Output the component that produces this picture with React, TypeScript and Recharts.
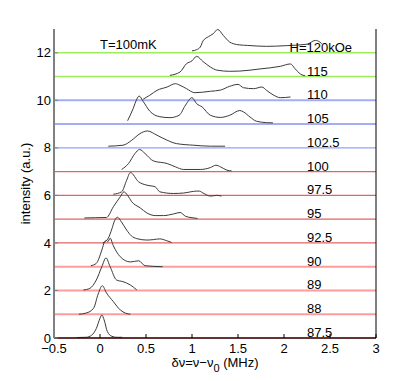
import React from 'react';
import { ComposedChart, Line, Scatter, XAxis, YAxis, ReferenceLine } from 'recharts';

const FONT = '"Liberation Sans", Arial, Helvetica, sans-serif';

// x ticks (MHz) and y ticks (a.u.)
const xTicks = [-0.5, 0, 0.5, 1, 1.5, 2, 2.5, 3];
const yTicks = [0, 2, 4, 6, 8, 10, 12];

// field labels, one per baseline (offset = index)
const fieldLabels = ['87.5', '88', '89', '90', '92.5', '95', '97.5', '100', '102.5', '105', '110', '115', 'H=120kOe'];
const labelX = [2.25, 2.25, 2.25, 2.25, 2.25, 2.25, 2.25, 2.25, 2.25, 2.25, 2.25, 2.25, 2.06];

// baseline colours / widths per offset
const baseColors = ['#b03838', '#ff9c9c', '#ff9c9c', '#ff9c9c', '#e26464', '#e26464', '#e26464', '#e26464',
  '#94a2f2', '#a4acf6', '#a4acf6', '#9cee5c', '#9cee5c'];
const baseWidths = [1.6, 2, 2, 2, 1.3, 1.3, 1.3, 1.3, 1.2, 2, 2, 1.5, 1.5];

// spectra: [δν, offset + intensity]
const s875 = [[-0.25, 0.02], [-0.15, 0.03], [-0.09, 0.12], [-0.04, 0.4], [0, 0.83], [0.02, 0.97], [0.045, 0.76],
  [0.08, 0.27], [0.13, 0.07], [0.18, 0.03], [0.24, 0.03]];
const s88 = [[-0.23, 1.0], [-0.15, 1.05], [-0.07, 1.25], [-0.02, 1.85], [0.025, 2.2], [0.07, 1.9], [0.145, 1.53],
  [0.22, 1.18], [0.28, 1.04], [0.33, 1.0]];
const s89 = [[-0.18, 2.02], [-0.11, 2.09], [-0.04, 2.44], [0.02, 3.0], [0.065, 3.37], [0.11, 3.0], [0.18, 2.44],
  [0.25, 2.37], [0.33, 2.23], [0.4, 2.02]];
const s90 = [[-0.1, 3.04], [-0.04, 3.14], [0.02, 3.7], [0.05, 4.05], [0.07, 4.1], [0.085, 4.05], [0.11, 4.2],
  [0.145, 3.88], [0.22, 3.42], [0.33, 3.2], [0.42, 3.25], [0.49, 3.04], [0.68, 3.0]];
const s925 = [[0.03, 4.0], [0.09, 4.2], [0.13, 4.6], [0.16, 4.95], [0.19, 5.08], [0.23, 4.9], [0.29, 4.54],
  [0.34, 4.3], [0.4, 4.18], [0.51, 4.12], [0.58, 4.14], [0.65, 4.17], [0.72, 4.1], [0.78, 4.02]];
const s95 = [[-0.17, 5.05], [-0.05, 5.06], [0.07, 5.07], [0.145, 5.52], [0.22, 5.94], [0.26, 6.15], [0.3, 6.0],
  [0.345, 5.73], [0.435, 5.48], [0.51, 5.26], [0.6, 5.15], [0.69, 5.15], [0.8, 5.22], [0.87, 5.28], [0.93, 5.12],
  [1.0, 5.06], [1.06, 5.03]];
const s975 = [[0.145, 6.05], [0.235, 6.15], [0.29, 6.64], [0.33, 6.96], [0.42, 6.57], [0.51, 6.43], [0.6, 6.36],
  [0.65, 6.15], [0.8, 6.08], [0.91, 6.1], [1.05, 6.18], [1.08, 6.18], [1.12, 6.1], [1.2, 5.97], [1.27, 6.0], [1.32, 5.97]];
const s100 = [[0.235, 7.09], [0.31, 7.34], [0.38, 7.76], [0.43, 7.93], [0.49, 7.76], [0.58, 7.45], [0.73, 7.34],
  [0.82, 7.2], [0.91, 7.09], [1.09, 7.09], [1.2, 7.17], [1.26, 7.27], [1.31, 7.2], [1.38, 7.06], [1.43, 7.03]];
const s1025 = [[0.09, 8.07], [0.25, 8.11], [0.345, 8.32], [0.435, 8.6], [0.515, 8.71], [0.62, 8.53], [0.73, 8.32],
  [0.83, 8.18], [1.02, 8.11], [1.2, 8.07], [1.36, 8.07]];
const s105 = [[0.3, 9.14], [0.36, 9.65], [0.4, 10.05], [0.425, 10.18], [0.47, 9.95], [0.54, 9.55], [0.65, 9.31],
  [0.76, 9.27], [0.86, 9.37], [0.93, 9.8], [1.0, 10.11], [1.05, 9.86], [1.11, 9.72], [1.2, 9.37], [1.31, 9.28],
  [1.41, 9.37], [1.52, 9.57], [1.56, 9.51], [1.63, 9.3], [1.7, 9.12], [1.81, 9.06], [1.88, 9.05]];
const s110 = [[0.47, 10.05], [0.54, 10.21], [0.62, 10.42], [0.73, 10.56], [0.82, 10.7], [0.87, 10.63], [0.94, 10.49],
  [1.03, 10.32], [1.2, 10.38], [1.31, 10.43], [1.41, 10.59], [1.5, 10.67], [1.56, 10.53], [1.67, 10.49],
  [1.76, 10.56], [1.81, 10.42], [1.89, 10.21], [1.96, 10.11], [2.07, 10.14]];
const s115 = [[0.76, 11.05], [0.87, 11.19], [0.94, 11.54], [1.0, 11.66], [1.05, 11.85], [1.12, 11.63], [1.2, 11.4],
  [1.27, 11.27], [1.41, 11.22], [1.52, 11.23], [1.74, 11.32], [1.96, 11.43], [2.07, 11.53], [2.12, 11.33],
  [2.18, 11.1], [2.23, 11.03]];
const s120 = [[1.0, 12.08], [1.05, 12.13], [1.09, 12.24], [1.12, 12.5], [1.18, 12.68], [1.23, 12.8], [1.28, 12.98],
  [1.34, 12.73], [1.41, 12.45], [1.45, 12.38], [1.52, 12.33], [1.6, 12.31], [1.81, 12.27], [2.03, 12.3],
  [2.25, 12.36], [2.34, 12.52], [2.39, 12.45], [2.41, 12.38]];

const spectra = [s875, s88, s89, s90, s925, s95, s975, s100, s1025, s105, s110, s115, s120];

const labelData = fieldLabels.map((label, i) => ({ x: labelX[i], y: i, label }));
const noteData = [{ x: 0, y: 12.12, label: 'T=100mK' }];

const TextShape = (props: any) => (
  <text x={props.cx} y={props.cy - 1} fontSize={13} fontFamily={FONT} fill="#000">
    {props.payload.label}
  </text>
);

const fmt = (v: number) => (v < 0 ? '\u2212' + Math.abs(v) : String(v));

export default function App() {
  return (
    <div style={{ position: 'absolute', left: 0, top: 0, background: '#fff' }}>
      <ComposedChart width={415} height={381} margin={{ top: 29, right: 39, bottom: 0, left: 0 }}>
        <XAxis
          dataKey="x"
          type="number"
          domain={[-0.5, 3]}
          ticks={xTicks}
          interval={0}
          allowDataOverflow
          height={43}
          tickSize={-4}
          tickMargin={10}
          tickFormatter={fmt}
          axisLine={{ stroke: '#000' }}
          tickLine={{ stroke: '#000' }}
          tick={{ fontSize: 13, fill: '#000', fontFamily: FONT }}
          label={{
            content: (p: any) => {
              const vb = p.viewBox;
              return (
                <text x={vb.x + vb.width / 2} y={vb.y + 29} textAnchor="middle" fontSize={13} fontFamily={FONT} fill="#000">
                  <tspan>δν=ν−ν</tspan>
                  <tspan dy={5} fontSize={11}>0</tspan>
                  <tspan dy={-5}> (MHz)</tspan>
                </text>
              );
            },
          }}
        />
        <XAxis
          xAxisId="top"
          orientation="top"
          type="number"
          domain={[-0.5, 3]}
          ticks={xTicks}
          interval={0}
          height={0}
          tickSize={-4}
          tickFormatter={() => ''}
          axisLine={{ stroke: '#000' }}
          tickLine={{ stroke: '#000' }}
        />
        <YAxis
          type="number"
          domain={[0, 13]}
          ticks={yTicks}
          interval={0}
          width={54}
          tickSize={-4}
          tickMargin={7}
          axisLine={{ stroke: '#808080', strokeWidth: 2 }}
          tickLine={{ stroke: '#808080' }}
          tick={{ fontSize: 13, fill: '#000', fontFamily: FONT }}
          label={{
            content: (p: any) => {
              const vb = p.viewBox;
              const cx = vb.x + 30;
              const cy = vb.y + vb.height / 2;
              return (
                <text x={cx} y={cy} transform={`rotate(-90 ${cx} ${cy})`} textAnchor="middle" fontSize={13} fontFamily={FONT} fill="#000">
                  intensity (a.u.)
                </text>
              );
            },
          }}
        />
        {baseColors.map((c, i) => (
          <ReferenceLine key={'b' + i} y={i} stroke={c} strokeWidth={baseWidths[i]} />
        ))}
        <ReferenceLine x={3} stroke="#000" />
        {spectra.map((pts, i) => (
          <Line
            key={'s' + i}
            data={pts.map(([x, y]) => ({ x, y }))}
            dataKey="y"
            type="monotone"
            stroke="#3a3a3a"
            strokeWidth={1}
            dot={false}
            isAnimationActive={false}
          />
        ))}
        <Scatter data={labelData} dataKey="y" shape={TextShape} isAnimationActive={false} />
        <Scatter data={noteData} dataKey="y" shape={TextShape} isAnimationActive={false} />
      </ComposedChart>
    </div>
  );
}
